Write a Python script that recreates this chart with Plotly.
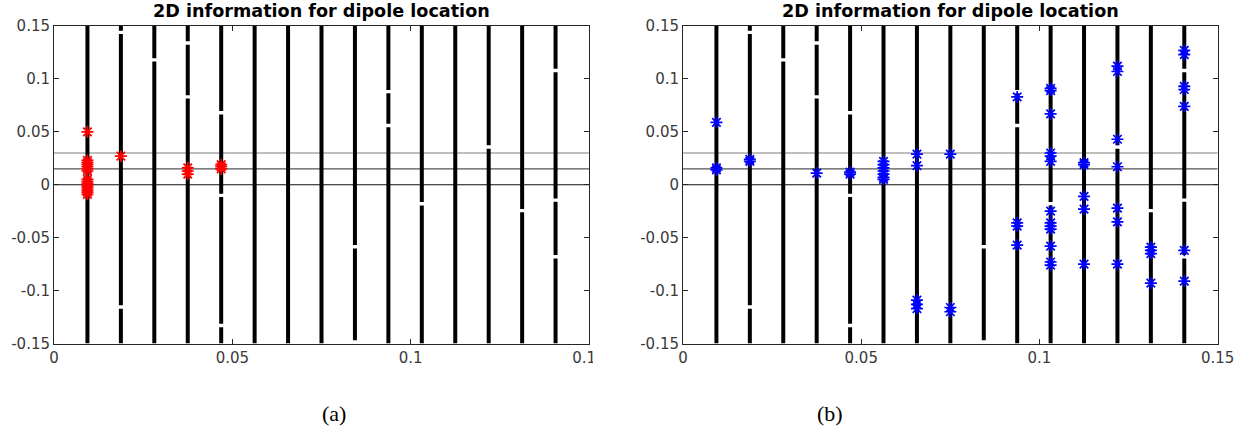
import plotly.graph_objects as go

# x positions of the sampled grid columns (same in both panels)
COL_X = [0.009375, 0.01875, 0.028125, 0.0375, 0.046875, 0.05625, 0.065625, 0.075,
         0.084375, 0.09375, 0.103125, 0.1125, 0.121875, 0.13125, 0.140625]
# visible white gaps in each column (y values)
COL_GAPS = [[], [0.144, -0.1155], [0.118], [0.134, 0.083], [0.068, -0.01, -0.133],
            [], [], [], [-0.0586], [0.088, 0.056], [-0.018], [], [0.0357],
            [-0.0245], [0.108, -0.0145, -0.068]]
COL_BOTTOM = [-0.15, -0.15, -0.15, -0.15, -0.15, -0.15, -0.15, -0.15,
              -0.147, -0.15, -0.15, -0.15, -0.15, -0.15, -0.15]
COL_TOP = 0.15

HLINE_Y = [0.03, 0.015, 0.0]
HLINE_COLOR = ['#7f7f7f', '#555555', '#111111']

# panel (a): red estimates
RED_X = [0.009375] * 15 + [0.01875] + [0.0375] * 3 + [0.046875] * 3
RED_Y = [0.05, 0.023, 0.021, 0.019, 0.017, 0.015, 0.013,
         0.005, 0.003, 0.001, -0.001, -0.003, -0.005, -0.007, -0.009,
         0.027,
         0.016, 0.013, 0.010,
         0.019, 0.017, 0.015]

# panel (b): blue estimates
BLUE_X = ([0.009375] * 3 + [0.01875] * 2 + [0.0375] + [0.046875] * 2
          + [0.05625] * 7 + [0.065625] * 5 + [0.075] * 3
          + [0.09375] * 4 + [0.103125] * 13 + [0.1125] * 5
          + [0.121875] * 7 + [0.13125] * 4 + [0.140625] * 7)
BLUE_Y = [0.059, 0.016, 0.014,
          0.024, 0.022,
          0.011,
          0.012, 0.010,
          0.022, 0.019, 0.016, 0.013, 0.010, 0.007, 0.005,
          0.029, 0.018, -0.109, -0.113, -0.117,
          0.029, -0.116, -0.120,
          0.083, -0.036, -0.039, -0.057,
          0.091, 0.089, 0.067, 0.030, 0.027, 0.022, -0.025, -0.036, -0.039,
          -0.042, -0.058, -0.073, -0.076,
          0.021, 0.019, -0.011, -0.023, -0.075,
          0.112, 0.107, 0.043, 0.017, -0.022, -0.035, -0.075,
          -0.059, -0.062, -0.065, -0.093,
          0.127, 0.123, 0.093, 0.090, 0.074, -0.062, -0.091]

Y_TICKS = [-0.15, -0.1, -0.05, 0, 0.05, 0.1, 0.15]
Y_TICKTEXT = ['-0.15', '-0.1', '-0.05', '0', '0.05', '0.1', '0.15']
X_TICKS = [0, 0.05, 0.1, 0.15]
X_TICKTEXT = ['0', '0.05', '0.1', '0.15']

TITLE = '2D information for dipole location'
W, H = 1245, 436


def px(x):
    return x / W


def py(y):
    return (H - y) / H


def column_segments():
    xs, ys = [], []
    gap = 0.0016
    for x, gaps, bottom in zip(COL_X, COL_GAPS, COL_BOTTOM):
        prev = bottom
        for g in sorted(gaps):
            xs += [x, x, None]
            ys += [prev, g - gap, None]
            prev = g + gap
        xs += [x, x, None]
        ys += [prev, COL_TOP, None]
    return xs, ys


fig = go.Figure()
cx, cy = column_segments()

panels = [('x', 'y', RED_X, RED_Y, '#ff0000'),
          ('x2', 'y2', BLUE_X, BLUE_Y, '#0000ff')]

for xa, ya, mx, my, mcol in panels:
    for hy, hc in zip(HLINE_Y, HLINE_COLOR):
        fig.add_trace(go.Scatter(x=[0, 0.15], y=[hy, hy], mode='lines',
                                 line=dict(color=hc, width=1.2),
                                 xaxis=xa, yaxis=ya, hoverinfo='skip'))
    fig.add_trace(go.Scatter(x=cx, y=cy, mode='lines',
                             line=dict(color='#000000', width=4),
                             xaxis=xa, yaxis=ya, hoverinfo='skip'))
    fig.add_trace(go.Scatter(x=mx, y=my, mode='markers',
                             marker=dict(symbol='asterisk-open', size=10, color=mcol,
                                         line=dict(color=mcol, width=1.7)),
                             xaxis=xa, yaxis=ya))

axis_common = dict(
    showgrid=False, zeroline=False, showline=True, linecolor='#262626', linewidth=1,
    mirror='ticks', ticks='inside', ticklen=5, tickcolor='#262626', automargin=False,
    tickfont=dict(family='DejaVu Sans', size=15, color='#3a3a3a'),
)

y_dom = [py(343.5), py(26)]
fig.update_layout(
    width=W, height=H,
    margin=dict(l=0, r=0, t=0, b=0),
    plot_bgcolor='white', paper_bgcolor='white',
    showlegend=False,
    xaxis=dict(domain=[px(54), px(589)], range=[0, 0.15], tickvals=X_TICKS,
               ticktext=X_TICKTEXT, anchor='y', **axis_common),
    yaxis=dict(domain=y_dom, range=[-0.15, 0.15], tickvals=Y_TICKS,
               ticktext=Y_TICKTEXT, anchor='x', **axis_common),
    xaxis2=dict(domain=[px(683), px(1217.7)], range=[0, 0.15], tickvals=X_TICKS,
                ticktext=X_TICKTEXT, anchor='y2', **axis_common),
    yaxis2=dict(domain=y_dom, range=[-0.15, 0.15], tickvals=Y_TICKS,
                ticktext=Y_TICKTEXT, anchor='x2', **axis_common),
)

# panel titles and sub-captions
for cxp in [321.5, 950.3]:
    fig.add_annotation(text='<b>' + TITLE + '</b>', xref='paper', yref='paper',
                       x=px(cxp), y=py(11), xanchor='center', yanchor='middle',
                       showarrow=False, borderpad=0,
                       font=dict(family='DejaVu Sans', size=17.6, color='#000000'))
for lab, lx in [('(a)', 334), ('(b)', 830)]:
    fig.add_annotation(text=lab, xref='paper', yref='paper',
                       x=px(lx), y=py(413), xanchor='center', yanchor='middle',
                       showarrow=False,
                       font=dict(family='Liberation Serif', size=22, color='#000000'))

# the left panel image is cut off just right of its last tick label
fig.add_shape(type='rect', xref='paper', yref='paper', layer='above',
              x0=px(593), x1=px(625), y0=py(380), y1=py(346),
              fillcolor='white', line=dict(width=0))

# drop the default page margin so the figure sits at the window's corner
fig.write_html("out.html", config={'displayModeBar': False},
               post_script="document.body.style.margin = '0';")
